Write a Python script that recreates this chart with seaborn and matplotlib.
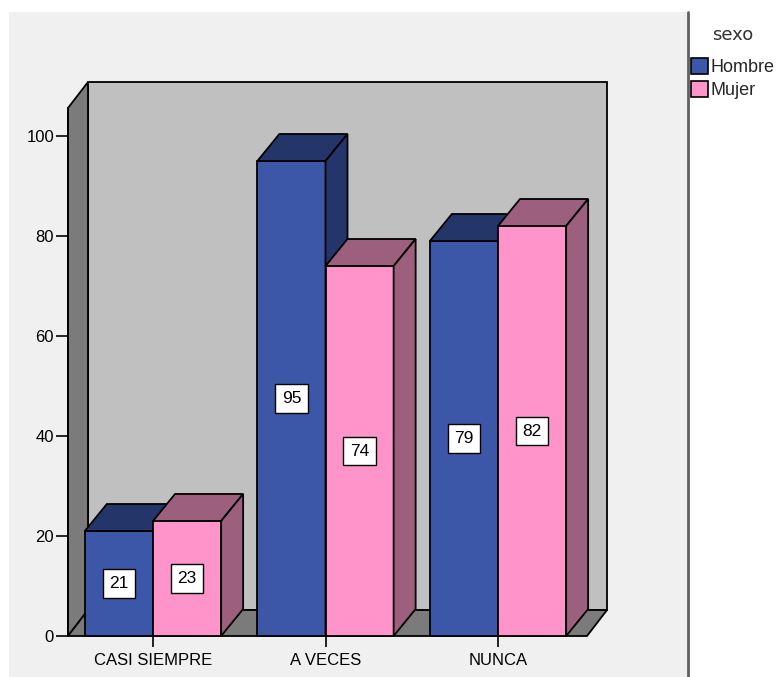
import matplotlib
matplotlib.use("Agg")
import matplotlib.pyplot as plt
from matplotlib.patches import Polygon, Rectangle, Patch
from matplotlib.lines import Line2D
import seaborn as sns
import pandas as pd

# Frequencies by answer and sex
categories = ["CASI SIEMPRE", "A VECES", "NUNCA"]
hombre = [21, 95, 79]
mujer = [23, 74, 82]
sexes = ["Hombre", "Mujer"]

df = pd.DataFrame({
    "respuesta": categories * 2,
    "sexo": [sexes[0]] * 3 + [sexes[1]] * 3,
    "n": hombre + mujer,
})

front = {"Hombre": "#3d57a8", "Mujer": "#fe94c9"}
shade = {"Hombre": "#243569", "Mujer": "#9d5f7e"}

W, H = 778, 677
sns.set_theme(style="white")
plt.rcParams["font.family"] = ["Liberation Sans", "DejaVu Sans"]

fig = plt.figure(figsize=(W / 100, H / 100), dpi=100, facecolor="white")

# grey panel and divider on the left of the legend
fig.patches.append(Rectangle((9 / W, 0), (688 - 9) / W, 1 - 12 / H,
                             transform=fig.transFigure, fc="#f0f0f0",
                             ec="none", zorder=-5))
fig.lines.append(Line2D([688 / W, 688 / W], [0, 1 - 12 / H],
                        transform=fig.transFigure, color="#606060", lw=2,
                        zorder=-4))

# axes frame: front plane of the chart box
left_px, right_px, base_px, top_px = 68, 608, 636, 82
ax = fig.add_axes([left_px / W, (H - base_px) / H,
                   (right_px - left_px) / W, (base_px - top_px) / H])
ax.set_facecolor("none")

step_px = 172.5               # pixels between category centres
unit_px = 5.0                 # pixels per count
x0 = (left_px - 153) / step_px
x1 = (right_px - 153) / step_px
ymax = (base_px - top_px) / unit_px

# depth offsets in data units
bdx, bdy = 22 / step_px, 27 / unit_px   # bars
wdx, wdy = 20 / step_px, 26 / unit_px   # walls
wall_top = ymax - wdy
floor_end = (587 - 153) / step_px

kw = dict(ec="black", lw=1.3, clip_on=False, joinstyle="miter")
# back wall, left wall, floor
ax.add_patch(Polygon([(x0 + wdx, wdy), (floor_end + wdx, wdy),
                      (floor_end + wdx, wall_top + wdy), (x0 + wdx, wall_top + wdy)],
                     fc="#c0c0c0", zorder=1, **kw))
ax.add_patch(Polygon([(x0, 0), (x0, wall_top), (x0 + wdx, wall_top + wdy),
                      (x0 + wdx, wdy)], fc="#7b7b7b", zorder=1, **kw))
ax.add_patch(Polygon([(x0, 0), (floor_end, 0), (floor_end + wdx, wdy),
                      (x0 + wdx, wdy)], fc="#7b7b7b", zorder=1, **kw))

sns.barplot(data=df, x="respuesta", y="n", hue="sexo", order=categories,
            hue_order=sexes, palette=front, width=0.79, saturation=1,
            edgecolor="black", linewidth=1.3, ax=ax, legend=False)

for container, sex in zip(ax.containers, sexes):
    z = 3 if sex == "Hombre" else 4
    for bar, val in zip(container, df[df.sexo == sex]["n"]):
        bar.set_zorder(z)
        bar.set_clip_on(False)
        xl = bar.get_x()
        xr = xl + bar.get_width()
        top = bar.get_height()
        ax.add_patch(Polygon([(xl, top), (xr, top), (xr + bdx, top + bdy),
                              (xl + bdx, top + bdy)], fc=shade[sex], zorder=z, **kw))
        ax.add_patch(Polygon([(xr, 0), (xr, top), (xr + bdx, top + bdy),
                              (xr + bdx, bdy)], fc=shade[sex], zorder=z, **kw))
        ax.text((xl + xr) / 2, top / 2, f"{val}", ha="center", va="center",
                fontsize=12.5, color="black", zorder=6,
                bbox=dict(boxstyle="square,pad=0.38", fc="white", ec="black", lw=1))

ax.set_xlim(x0, x1)
ax.set_ylim(0, ymax)
for s in ax.spines.values():
    s.set_visible(False)
ax.set_yticks([0, 20, 40, 60, 80, 100])
ax.set_xlabel("")
ax.set_ylabel("")
ax.tick_params(axis="y", left=True, length=8.5, width=1.2, pad=1.5,
               labelsize=12, color="black", labelcolor="black")
ax.tick_params(axis="x", bottom=True, length=8, width=1.2, pad=4,
               labelsize=12, color="black", labelcolor="black")
ax.plot([x0, x0], [0, wall_top], color="black", lw=1.3, clip_on=False, zorder=2)

# legend
fig.text(733 / W, 1 - 35 / H, "sexo", ha="center", va="center",
         fontsize=13, color="#333333", family="DejaVu Sans")
handles = [Patch(fc=front[s], ec="black", lw=1.2, label=s) for s in sexes]
fig.legend(handles=handles, loc="upper left",
           bbox_to_anchor=(689 / W, 1 - 56 / H), frameon=False,
           fontsize=13, handlelength=0.95, handleheight=1.0,
           handletextpad=0.15, labelspacing=0.25,
           borderaxespad=0, borderpad=0.1)

fig.savefig("out.png", dpi=100, facecolor="white")
